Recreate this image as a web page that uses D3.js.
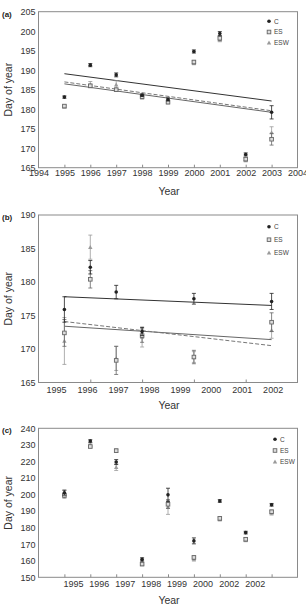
<!DOCTYPE html>
<html><head><meta charset="utf-8">
<script src="https://cdn.jsdelivr.net/npm/d3@7"></script>
<style>html,body{margin:0;padding:0;background:#fff;}svg{display:block;font-family:"Liberation Sans",Arial,sans-serif;}</style>
</head><body>
<script>
// ---------- DATA ----------
const seriesNames = ["C", "ES", "ESW"];

// Panel (a)
const yearsA = [1995, 1996, 1997, 1998, 1999, 2000, 2001, 2002, 2003];
const aC = [183.1, 191.3, 188.8, 183.6, 182.5, 194.8, 199.4, 168.4, 179.2];
const aCerr = [0.3, 0.4, 0.5, 0.3, 0.4, 0.4, 0.5, 0.4, 1.7];
const aES = [180.8, 186.0, 185.0, 183.2, 181.8, 192.1, 198.2, 167.2, 172.3];
const aESerr = [0.3, 0.4, 0.4, 0.3, 0.4, 0.4, 0.5, 0.4, 1.5];
const aESW = [180.6, 186.3, 186.3, 183.0, 182.2, 191.8, 197.8, 167.0, 174.0];
const aESWerr = [0.3, 0.8, 1.0, 0.4, 0.5, 0.4, 0.5, 0.5, 1.5];
const aTrendYears = [1995, 2003];
const aTrendC = [189.1, 182.1];
const aTrendES = [186.5, 179.2];
const aTrendESW = [187.0, 179.6];
const aTickYears = [1994, 1995, 1996, 1997, 1998, 1999, 2000, 2001, 2002, 2003, 2004];
const aTickLabels = ["1994", "1995", "1996", "1997", "1998", "1999", "2000", "2001", "2002", "2003", "2004"];
const aYTicks = [165, 170, 175, 180, 185, 190, 195, 200, 205];

// Panel (b)
const yearsB = [1995, 1996, 1997, 1998, 2000, 2003];
const bC = [175.9, 182.2, 178.5, 172.6, 177.5, 177.1];
const bCerr = [1.9, 1.0, 1.0, 0.6, 0.8, 1.2];
const bES = [172.4, 180.4, 168.3, 172.0, 168.8, 174.0];
const bESerr = [2.0, 1.3, 2.1, 1.0, 1.0, 1.4];
const bESW = [171.2, 185.2, 168.6, 171.8, 168.8, 172.8];
const bESWerr = [3.5, 1.8, 1.8, 1.5, 0.8, 1.2];
const bTrendYears = [1995, 2003];
const bTrendC = [177.8, 176.5];
const bTrendES = [173.4, 171.4];
const bTrendESW = [174.1, 170.5];
const bTickYears = [1996, 1998, 2000, 2002];
const bLabelPos = [1994.68, 1995.875, 1997.07, 1998.265, 1999.46, 2000.655, 2001.85, 2003.04];
const bLabels = ["1995", "1996", "1997", "1998", "1999", "2000", "2001", "2002"];
const bYTicks = [165, 170, 175, 180, 185, 190];

// Panel (c)
const yearsC = [1995, 1996, 1997, 1998, 1999, 2000, 2001, 2002, 2003];
const cC = [201.1, 232.3, 219.6, 160.8, 199.8, 172.0, 196.1, 177.0, 193.8];
const cCerr = [1.5, 0.8, 1.5, 1.0, 4.0, 1.8, 0.8, 0.8, 0.8];
const cES = [199.5, 229.0, 226.5, 158.0, 194.1, 162.0, 185.6, 173.0, 189.6];
const cESerr = [1.2, 0.8, 1.0, 1.0, 2.5, 1.0, 1.0, 1.0, 1.0];
const cESW = [200.2, 230.0, 216.5, 159.0, 192.5, 161.0, 185.0, 172.5, 188.8];
const cESWerr = [2.5, 1.0, 2.0, 1.5, 4.5, 1.2, 1.0, 1.0, 1.2];
const cTickYears = [1995, 1996, 1997, 1998, 1999, 2000, 2001, 2002, 2003];
const cLabelPos = [1995.33, 1996.33, 1997.33, 1998.33, 1999.33, 2000.33, 2001.35, 2002.35];
const cLabels = ["1995", "1996", "1997", "1998", "1999", "2000", "2002", "2002"];
const cYTicks = [150, 160, 170, 180, 190, 200, 210, 220, 230, 240];

// ---------- STYLE ----------
const W = 306, H = 612;
const colC = "#222", colES = "#666", colESW = "#9a9a9a";
const frameCol = "#8a8a8a";

const svg = d3.select("body").append("svg").attr("width", W).attr("height", H);
svg.append("rect").attr("width", W).attr("height", H).attr("fill", "#fff");

function panel(cfg) {
  const x = d3.scaleLinear().domain([1994, 2004]).range([38.5, 297.5]);
  const y = d3.scaleLinear().domain(cfg.yDomain).range([cfg.bottom, cfg.top]);
  const g = svg.append("g");

  // frame
  g.append("rect").attr("x", x.range()[0]).attr("y", cfg.top)
    .attr("width", x.range()[1] - x.range()[0]).attr("height", cfg.bottom - cfg.top)
    .attr("fill", "none").attr("stroke", frameCol).attr("stroke-width", 1);

  // y axis
  const ya = d3.axisLeft(y).tickValues(cfg.yTicks).tickSize(0).tickPadding(3).tickFormat(d3.format("d"));
  const yg = g.append("g").attr("transform", `translate(${x.range()[0]},0)`).call(ya);
  yg.select(".domain").remove();
  yg.selectAll("text").attr("font-size", 9).attr("fill", "#333").attr("font-family", "Liberation Sans, Arial");

  // x ticks (inward)
  const xa = d3.axisTop(x).tickValues(cfg.xTicks).tickSize(3).tickFormat("");
  const xg = g.append("g").attr("transform", `translate(0,${cfg.bottom})`).call(xa);
  xg.select(".domain").remove();
  xg.selectAll("line").attr("stroke", frameCol);

  // x labels
  const xl = d3.axisBottom(x).tickValues(cfg.labelPos).tickSize(0).tickPadding(cfg.labelPad)
    .tickFormat((d, i) => cfg.labels[i]);
  const xlg = g.append("g").attr("transform", `translate(0,${cfg.bottom})`).call(xl);
  xlg.select(".domain").remove();
  xlg.selectAll("text").attr("font-size", 9).attr("fill", "#333").attr("font-family", "Liberation Sans, Arial");

  // titles
  g.append("text").attr("x", 169).attr("y", cfg.xTitleY).attr("text-anchor", "middle")
    .attr("font-size", 10.5).attr("fill", "#333").text("Year");
  g.append("text").attr("transform", `translate(12,${(cfg.top + cfg.bottom) / 2}) rotate(-90)`)
    .attr("text-anchor", "middle").attr("font-size", 10.5).attr("fill", "#333").text("Day of year");
  g.append("text").attr("x", 2).attr("y", cfg.top + 5).attr("font-size", 8).attr("font-weight", "bold")
    .attr("fill", "#222").text(cfg.tag);

  // trend lines
  const line = d3.line().x(d => x(d[0])).y(d => y(d[1]));
  if (cfg.trends) {
    cfg.trends.forEach(t => {
      g.append("path").attr("d", line(cfg.trendYears.map((yr, i) => [yr, t.vals[i]])))
        .attr("fill", "none").attr("stroke", t.color).attr("stroke-width", 1)
        .attr("stroke-dasharray", t.dash || null);
    });
  }

  // series: draw ESW, ES, C
  const series = [
    { name: "ESW", vals: cfg.esw, err: cfg.eswErr, color: colESW },
    { name: "ES", vals: cfg.es, err: cfg.esErr, color: colES },
    { name: "C", vals: cfg.c, err: cfg.cErr, color: colC }
  ];
  series.forEach(s => {
    const sg = g.append("g");
    cfg.years.forEach((yr, i) => {
      const cx = x(yr), v = s.vals[i], e = s.err[i];
      sg.append("line").attr("x1", cx).attr("x2", cx).attr("y1", y(v - e)).attr("y2", y(v + e))
        .attr("stroke", s.color).attr("stroke-width", 0.8);
      [v - e, v + e].forEach(ev => sg.append("line").attr("x1", cx - 2).attr("x2", cx + 2)
        .attr("y1", y(ev)).attr("y2", y(ev)).attr("stroke", s.color).attr("stroke-width", 0.8));
      drawMarker(sg, s.name, cx, y(v));
    });
  });

  // legend
  const lg = g.append("g");
  seriesNames.forEach((n, i) => {
    const ly = cfg.legY + i * cfg.legStep;
    drawMarker(lg, n, cfg.legX, ly);
    lg.append("text").attr("x", cfg.legX + 5).attr("y", ly + 2.2).attr("font-size", 6.5)
      .attr("fill", "#444").text(n);
  });
}

function drawMarker(sel, name, cx, cy) {
  if (name === "C") {
    sel.append("circle").attr("cx", cx).attr("cy", cy).attr("r", 1.8).attr("fill", colC);
  } else if (name === "ES") {
    sel.append("rect").attr("x", cx - 1.8).attr("y", cy - 1.8).attr("width", 3.6).attr("height", 3.6)
      .attr("fill", "#ddd").attr("stroke", colES).attr("stroke-width", 0.9);
  } else {
    const s = 2.2;
    sel.append("path").attr("d", `M${cx},${cy - s}L${cx + s},${cy + s * 0.8}L${cx - s},${cy + s * 0.8}Z`)
      .attr("fill", colESW);
  }
}

panel({
  tag: "(a)", yDomain: [165, 205], top: 11.7, bottom: 167.7, yTicks: aYTicks,
  xTicks: aTickYears.slice(1, -1), labelPos: aTickYears, labels: aTickLabels, labelPad: 2,
  xTitleY: 195, years: yearsA, c: aC, cErr: aCerr, es: aES, esErr: aESerr, esw: aESW, eswErr: aESWerr,
  trendYears: aTrendYears,
  trends: [
    { vals: aTrendES, color: "#666" },
    { vals: aTrendESW, color: "#777", dash: "4,2" },
    { vals: aTrendC, color: "#333" }
  ],
  legX: 269, legY: 21.3, legStep: 10.7
});

panel({
  tag: "(b)", yDomain: [165, 190], top: 215, bottom: 382.5, yTicks: bYTicks,
  xTicks: bTickYears, labelPos: bLabelPos, labels: bLabels, labelPad: 4,
  xTitleY: 408.5, years: yearsB, c: bC, cErr: bCerr, es: bES, esErr: bESerr, esw: bESW, eswErr: bESWerr,
  trendYears: bTrendYears,
  trends: [
    { vals: bTrendES, color: "#666" },
    { vals: bTrendESW, color: "#777", dash: "4,2" },
    { vals: bTrendC, color: "#333" }
  ],
  legX: 269, legY: 226.7, legStep: 13
});

panel({
  tag: "(c)", yDomain: [150, 240], top: 428.3, bottom: 577.3, yTicks: cYTicks,
  xTicks: cTickYears, labelPos: cLabelPos, labels: cLabels, labelPad: 3,
  xTitleY: 604, years: yearsC, c: cC, cErr: cCerr, es: cES, esErr: cESerr, esw: cESW, eswErr: cESWerr,
  trendYears: null, trends: null,
  legX: 275, legY: 439.3, legStep: 11.2
});
</script>
</body></html>
